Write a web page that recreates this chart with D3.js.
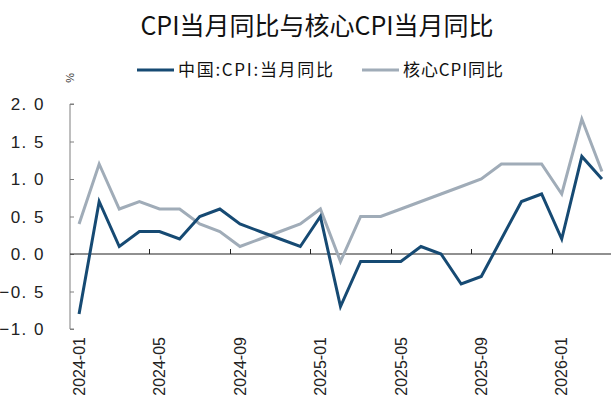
<!DOCTYPE html>
<html><head><meta charset="utf-8">
<script src="https://cdn.jsdelivr.net/npm/d3@7/dist/d3.min.js"></script>
<style>
html,body{margin:0;padding:0;background:#fff;}
svg{display:block;}
</style></head>
<body>
<svg id="chart" width="611" height="401"></svg>
<script>
const months = ["2024-01","2024-02","2024-03","2024-04","2024-05","2024-06","2024-07","2024-08","2024-09","2024-10","2024-11","2024-12",
"2025-01","2025-02","2025-03","2025-04","2025-05","2025-06","2025-07","2025-08","2025-09","2025-10","2025-11","2025-12",
"2026-01","2026-02","2026-03"];
const cpi  = [-0.8,0.7,0.1,0.3,0.3,0.2,0.5,0.6,0.4,0.3,0.2,0.1, 0.5,-0.7,-0.1,-0.1,-0.1,0.1,0.0,-0.4,-0.3,0.2,0.7,0.8, 0.2,1.3,1.0];
const core = [0.4,1.2,0.6,0.7,0.6,0.6,0.4,0.3,0.1,0.2,0.3,0.4, 0.6,-0.1,0.5,0.5,0.6,0.7,0.8,0.9,1.0,1.2,1.2,1.2, 0.8,1.8,1.1];
const yTicks = [-1.0,-0.5,0.0,0.5,1.0,1.5,2.0];
const xLabelMonths = ["2024-01","2024-05","2024-09","2025-01","2025-05","2025-09","2026-01"];
const seriesNames = ["中国:CPI:当月同比","核心CPI同比"];
const title = "CPI当月同比与核心CPI当月同比";
const unit = "%";

const colors = ["#164a73","#a0acb8"];
const svg = d3.select("#chart");
const cjk = "'Noto Sans CJK SC','Noto Sans',sans-serif";
const latin = "'Liberation Sans',Arial,sans-serif";

const x = d3.scaleBand().domain(months).range([69, 612]).paddingInner(0).paddingOuter(0);
const y = d3.scaleLinear().domain([-1, 2]).range([329, 104]);
const cx = d => x(d) + x.bandwidth()/2;

// title
svg.append("text").attr("x", 317).attr("y", 35).attr("text-anchor","middle")
  .attr("font-family", cjk).attr("font-size", 25).attr("fill","#111").text(title);

// legend
const legendPos = [{lx:137, tx:178, w:155},{lx:362, tx:403, w:100}];
seriesNames.forEach((n,i)=>{
  const p = legendPos[i];
  svg.append("line").attr("x1",p.lx).attr("x2",p.tx-4).attr("y1",70).attr("y2",70)
    .attr("stroke",colors[i]).attr("stroke-width",3);
  svg.append("text").attr("x",p.tx).attr("y",76).attr("font-family",cjk)
    .attr("font-size",17).attr("textLength",p.w).attr("lengthAdjust","spacing")
    .attr("fill","#111").text(n);
});

// unit
svg.append("text").attr("transform","translate(66,78) rotate(90)")
  .attr("text-anchor","middle").attr("font-family",latin).attr("font-size",11).attr("fill","#333").text(unit);

// y axis
const yAxis = d3.axisRight(y).tickValues(yTicks).tickSize(4).tickFormat("");
const ya = svg.append("g").attr("transform","translate(70,0)").call(yAxis);
ya.selectAll("path,line").attr("stroke","#7f7f7f");
ya.select(".domain").attr("d", `M4,${y(2)}H0V${y(-1)}H4`);
svg.append("g").selectAll("text").data(yTicks).join("text")
  .attr("x",45).attr("y",d=>y(d)).attr("dy","0.36em").attr("text-anchor","end")
  .attr("font-family",latin).attr("font-size",17).attr("letter-spacing","1.5px").attr("fill","#222")
  .text(d=>d3.format(".1f")(d).replace(".", ". ").replace("-", "−"));

// zero line with upward ticks
const zx = svg.append("g").attr("transform",`translate(0,${y(0)})`);
zx.append("line").attr("x1",70).attr("x2",611).attr("stroke","#222").attr("stroke-width",1.2);
zx.selectAll("line.tk").data(xLabelMonths.slice(1)).join("line").attr("class","tk")
  .attr("x1",d=>Math.round(x(d))+0.5).attr("x2",d=>Math.round(x(d))+0.5).attr("y1",0).attr("y2",-5)
  .attr("stroke","#222").attr("stroke-width",1);

// x labels
svg.append("g").selectAll("text").data(xLabelMonths).join("text")
  .attr("transform",d=>`translate(${cx(d)},337) rotate(-90)`)
  .attr("dy","0.36em").attr("text-anchor","end")
  .attr("font-family",latin).attr("font-size",16).attr("fill","#222").text(d=>d);

// lines
const line = d3.line().x((d,i)=>cx(months[i])).y(d=>y(d));
[core, cpi].forEach((s,k)=>{
  const ci = k===0 ? 1 : 0;
  svg.append("path").datum(s).attr("d",line).attr("fill","none")
    .attr("stroke",colors[ci]).attr("stroke-width",3).attr("stroke-linejoin","miter");
});
</script>
</body></html>
